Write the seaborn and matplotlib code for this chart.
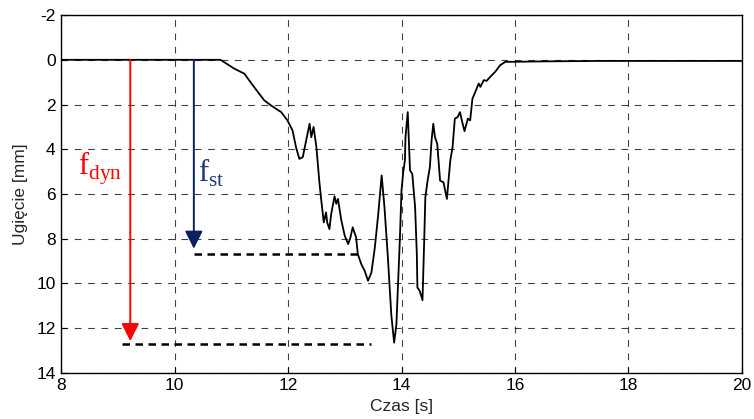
import matplotlib
matplotlib.use("Agg")
import matplotlib.pyplot as plt
import seaborn as sns
import numpy as np
import pandas as pd

# ---- data ----
czas = [8.0, 10.0, 10.81, 11.05, 11.23, 11.40, 11.58, 11.70, 11.88, 11.99, 12.08, 12.14, 12.20,
        12.26, 12.32, 12.38, 12.41, 12.45, 12.50, 12.55, 12.58, 12.63, 12.67, 12.69, 12.73,
        12.76, 12.82, 12.85, 12.88, 12.94, 13.00, 13.06, 13.10, 13.14, 13.20, 13.23, 13.29,
        13.35, 13.41, 13.47, 13.53, 13.59, 13.65, 13.70, 13.76, 13.82, 13.87, 13.91, 13.97,
        14.00, 14.03, 14.06, 14.07, 14.11, 14.15, 14.19, 14.24, 14.27, 14.28, 14.32, 14.37,
        14.40, 14.42, 14.46, 14.50, 14.53, 14.56, 14.59, 14.63, 14.68, 14.74, 14.80, 14.86,
        14.90, 14.94, 14.99, 15.03, 15.07, 15.11, 15.17, 15.21, 15.25, 15.30, 15.36, 15.39,
        15.45, 15.50, 15.56, 15.65, 15.74, 15.83, 15.95, 16.5, 17.5, 20.0]
ugiecie = [0.0, 0.0, 0.0, 0.39, 0.62, 1.21, 1.81, 2.04, 2.34, 2.71, 3.16, 3.90, 4.43,
           4.35, 3.60, 2.86, 3.46, 3.00, 3.90, 5.40, 6.15, 7.27, 6.82, 7.27, 7.57,
           6.90, 6.10, 6.44, 6.22, 7.19, 7.87, 8.24, 7.94, 7.49, 7.94, 8.69, 9.13,
           9.43, 9.88, 9.51, 8.39, 6.90, 5.17, 6.60, 8.84, 11.40, 12.65, 11.83, 8.09,
           5.85, 5.03, 4.50, 3.46, 2.34, 4.95, 5.10, 6.60, 8.69, 10.18, 10.33, 10.75,
           8.09, 6.15, 5.40, 4.80, 3.60, 2.86, 3.46, 3.76, 5.40, 5.48, 6.22, 4.50,
           3.90, 2.63, 2.56, 2.34, 2.78, 3.19, 2.63, 2.71, 1.74, 1.44, 1.06, 1.21,
           0.91, 0.94, 0.77, 0.54, 0.24, 0.09, 0.09, 0.07, 0.05, 0.05]

x_ticks = [8, 10, 12, 14, 16, 18, 20]
y_ticks = [-2, 0, 2, 4, 6, 8, 10, 12, 14]

f_dyn_x, f_dyn_val = 9.22, 12.7
f_st_x, f_st_val = 10.34, 8.7
f_dyn_line = [9.08, 13.47]
f_st_line = [10.34, 13.25]

df = pd.DataFrame({"Czas": czas, "Ugiecie": ugiecie})

sns.set_style("white")
plt.rcParams["font.family"] = ["Liberation Sans", "DejaVu Sans"]
plt.rcParams["mathtext.fontset"] = "custom"
plt.rcParams["mathtext.rm"] = "Liberation Serif"

fig = plt.figure(figsize=(7.54, 4.19), dpi=100)
ax = fig.add_axes([0.081, 0.110, 0.903, 0.854])

sns.lineplot(data=df, x="Czas", y="Ugiecie", color="black", linewidth=1.3, ax=ax)

ax.set_xlim(8, 20)
ax.set_ylim(14, -2)
ax.set_xticks(x_ticks)
ax.set_yticks(y_ticks)
ax.set_xticklabels([str(t) for t in x_ticks])
ax.set_yticklabels([str(t) for t in y_ticks])
ax.grid(True, color="black", linestyle=(0, (6, 6)), linewidth=0.8, alpha=0.75)
ax.set_axisbelow(True)
ax.tick_params(direction="in", length=4, width=0.8, labelsize=12.5, colors="black",
               bottom=True, left=True, pad=4)
for s in ax.spines.values():
    s.set_color("black")
    s.set_linewidth(1.0)
ax.set_xlabel("Czas [s]", fontsize=12.5, labelpad=4)
ax.set_ylabel("Ugięcie [mm]", fontsize=12.5, labelpad=6)

# dashed reference levels
ax.plot(f_dyn_line, [f_dyn_val, f_dyn_val], color="black", lw=1.8, linestyle=(0, (3, 2.2)))
ax.plot(f_st_line, [f_st_val, f_st_val], color="black", lw=1.8, linestyle=(0, (3, 2.2)))

# arrows
ax.annotate("", xy=(f_dyn_x, f_dyn_val - 0.12), xytext=(f_dyn_x, 0),
            arrowprops=dict(arrowstyle="-|>,head_length=0.9,head_width=0.45",
                            color="#ff0000", lw=1.4, shrinkA=0, shrinkB=0, mutation_scale=12))
ax.annotate("", xy=(f_st_x, f_st_val - 0.25), xytext=(f_st_x, 0),
            arrowprops=dict(arrowstyle="-|>,head_length=0.9,head_width=0.45",
                            color="#0a215e", lw=1.4, shrinkA=0, shrinkB=0, mutation_scale=12))

ax.text(8.3, 5.15, r"$\mathrm{f}_{\mathrm{dyn}}$", color="#ff0000", fontsize=22, ha="left", va="baseline")
ax.text(10.42, 5.45, r"$\mathrm{f}_{\mathrm{st}}$", color="#1f3a7a", fontsize=22, ha="left", va="baseline")

fig.savefig("out.png", dpi=100)
